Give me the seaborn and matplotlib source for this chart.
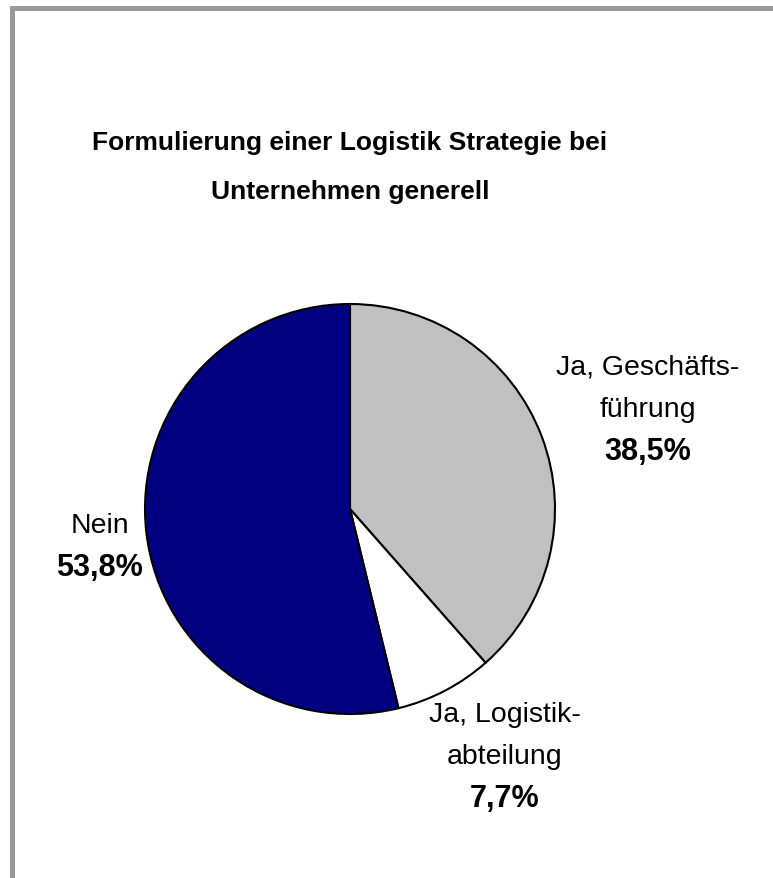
import numpy as np
import matplotlib
matplotlib.use("Agg")
import matplotlib.pyplot as plt
from matplotlib.patches import Rectangle
import seaborn as sns

# data
labels = [["Ja, Geschäfts-", "führung"], ["Ja, Logistik-", "abteilung"], ["Nein"]]
values = [38.5, 7.7, 53.8]
pct_text = ["38,5%", "7,7%", "53,8%"]
colors = ["#C0C0C0", "#FFFFFF", "#000080"]

sns.set_theme(style="white")
plt.rcParams['font.family'] = ['Liberation Sans', 'DejaVu Sans']

W, H = 773, 879
fig = plt.figure(figsize=(W / 100, H / 100), dpi=100)
fig.patch.set_facecolor("white")

# pie axes: centre (350, 510) px, radius 205 px
r = 205
cx, cy = 350, 510
ax = fig.add_axes([(cx - r) / W, (H - cy - r) / H, 2 * r / W, 2 * r / H])
wedges, _ = ax.pie(values, colors=colors, startangle=90, counterclock=False,
                   wedgeprops=dict(edgecolor="black", linewidth=1.5))
ax.set_xlim(-1, 1)
ax.set_ylim(-1, 1)
ax.set_aspect("equal")
ax.axis("off")

# label anchor positions (data units, radius = 1), lines stacked around them
label_pos = [(1.454, 0.488), (0.756, -1.205), (-1.22, -0.18)]
step = 42
for (x, y), lines, pct in zip(label_pos, labels, pct_text):
    rows = lines + [pct]
    n = len(rows)
    for i, t in enumerate(rows):
        off = ((n - 1) / 2 - i) * step
        bold = (i == n - 1)
        ax.annotate(t, xy=(x, y), xytext=(0, off), textcoords="offset pixels",
                    ha="center", va="center",
                    fontsize=22 if bold else 20.5,
                    fontweight="bold" if bold else "normal",
                    color="black", annotation_clip=False)

title_lines = ["Formulierung einer Logistik Strategie bei", "Unternehmen generell"]
for t, yy in zip(title_lines, [143, 192]):
    fig.text(350 / W, 1 - yy / H, t, ha="center", va="center",
             fontsize=19, fontweight="bold", color="black")

# grey frame (top and left edges visible)
fig.patches.append(Rectangle((11.5 / W, -0.1), 1.2, 1.1 - 8.5 / H,
                             transform=fig.transFigure, fill=False,
                             edgecolor="#999999", linewidth=3.6))

fig.savefig("out.png", dpi=100)
